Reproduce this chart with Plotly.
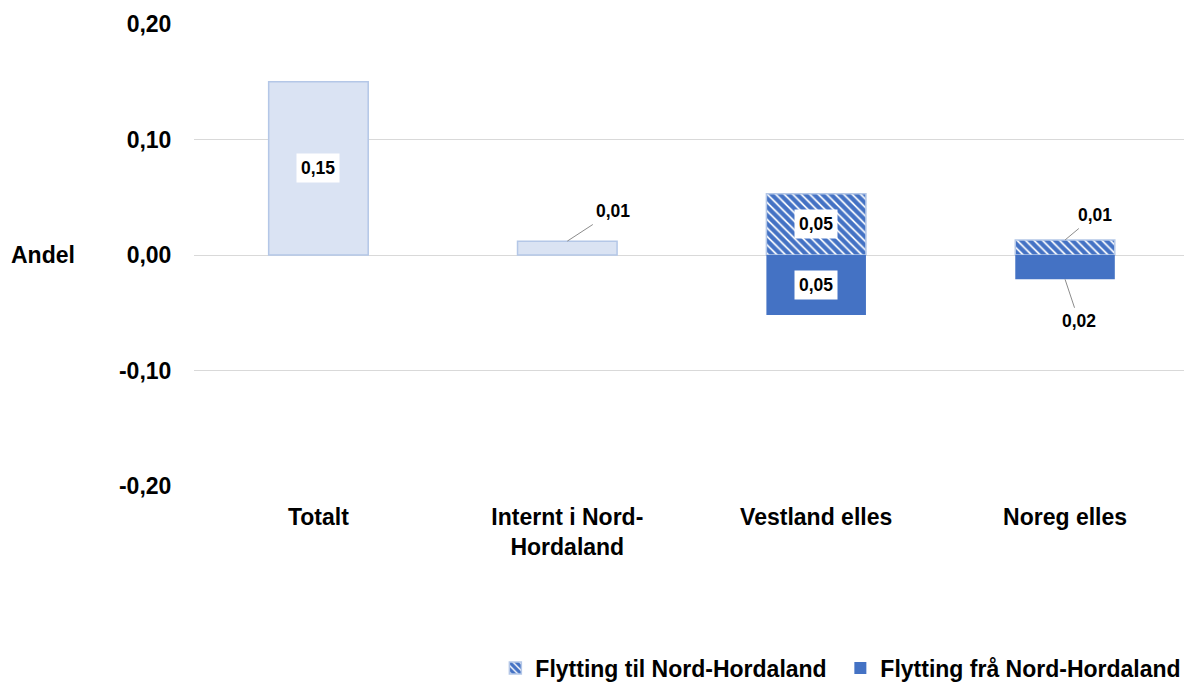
import plotly.graph_objects as go

categories = ["Totalt", "Internt i Nord-<br>Hordaland", "Vestland elles", "Noreg elles"]
netto = [0.15, 0.012, None, None]
flytting_til = [None, None, 0.053, 0.013]
flytting_fra = [None, None, -0.052, -0.021]
y_tickvals = [-0.2, -0.1, 0.0, 0.1, 0.2]
y_ticktext = ["-0,20", "-0,10", "0,00", "0,10", "0,20"]

LIGHT = "#DAE3F3"
LIGHT_EDGE = "#B4C7E7"
BLUE = "#4472C4"
FONT = "Liberation Sans, Arial, sans-serif"

x_idx = list(range(len(categories)))

fig = go.Figure()
fig.add_trace(go.Bar(
    x=x_idx, y=netto, width=0.4, name="Netto", showlegend=False,
    marker=dict(color=LIGHT, line=dict(color=LIGHT_EDGE, width=1.5)),
))
fig.add_trace(go.Bar(
    x=x_idx, y=flytting_til, width=0.4, name="Flytting til Nord-Hordaland",
    marker=dict(color="white", line=dict(color=LIGHT_EDGE, width=1.5),
                pattern=dict(shape="\\", fgcolor=BLUE, bgcolor="white", size=6,
                             solidity=0.7, fgopacity=1)),
))
fig.add_trace(go.Bar(
    x=x_idx, y=flytting_fra, width=0.4, name="Flytting frå Nord-Hordaland",
    marker=dict(color=BLUE, line=dict(color=BLUE, width=0)),
))


def fmt(v):
    return f"{abs(v):.2f}".replace(".", ",")


annotations = []
label_font = dict(family=FONT, size=17.5, color="black", weight="bold")
inside = [(0, netto[0]), (2, flytting_til[2]), (2, flytting_fra[2])]
for xi, v in inside:
    annotations.append(dict(x=xi, y=v / 2, xref="x", yref="y", text=fmt(v),
                            showarrow=False, bgcolor="white", borderpad=4, font=label_font))
callouts = [(1, netto[1], 46, -30), (3, flytting_til[3], 30, -25), (3, flytting_fra[3], 14, 42)]
for xi, v, ax, ay in callouts:
    annotations.append(dict(x=xi, y=v, xref="x", yref="y", text=fmt(v),
                            showarrow=True, arrowhead=0, arrowwidth=1, arrowcolor="#8C8C8C",
                            ax=ax, ay=ay, bgcolor="white", borderpad=3, font=label_font))
annotations.append(dict(x=-0.153, y=0, xref="paper", yref="y", text="Andel", showarrow=False,
                        xanchor="center", font=dict(family=FONT, size=23, color="black", weight="bold")))

fig.update_layout(
    width=1184, height=682,
    margin=dict(l=193.5, r=0, t=24, b=196, autoexpand=False),
    paper_bgcolor="white", plot_bgcolor="white",
    font=dict(family=FONT, size=23, color="black", weight="bold"),
    barmode="relative",
    annotations=annotations,
    legend=dict(orientation="h", x=0.3044, y=-0.394, xanchor="left", yanchor="middle",
                font=dict(size=23, weight="bold"), traceorder="normal",
                entrywidth=300, entrywidthmode="pixels"),
    xaxis=dict(tickvals=x_idx, ticktext=categories, range=[-0.5, 3.478],
               showgrid=False, zeroline=False, showline=False, ticks="outside",
               ticklen=10, tickcolor="rgba(0,0,0,0)"),
    yaxis=dict(range=[-0.2, 0.2], tickvals=y_tickvals, ticktext=y_ticktext,
               showgrid=True, gridcolor="#D9D9D9", gridwidth=1, zeroline=True,
               zerolinecolor="#D9D9D9", zerolinewidth=1, showline=False,
               ticks="outside", ticklen=17, tickcolor="rgba(0,0,0,0)"),
)

fig.write_html("out.html", config={"displayModeBar": False},
               post_script="document.body.style.margin='0';")
